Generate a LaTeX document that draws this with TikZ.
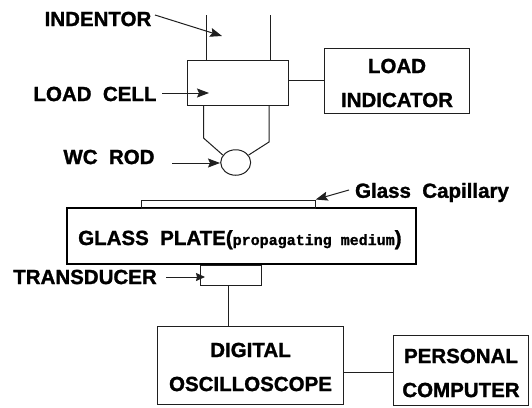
\documentclass[tikz,border=0pt]{standalone}
\usepackage{fontspec}
\setmainfont{Liberation Sans}[BoldFeatures={FakeBold=1.3}]
\newfontfamily\monoface{Liberation Mono}[FakeBold=1.2]
\usetikzlibrary{arrows.meta,shapes.geometric}
\tikzset{
  x=1pt,y=-1pt,
  ln/.style={draw=black!88,line width=1pt},
  thickbox/.style={draw=black,line width=1.5pt},
  ptr/.style={ln,-{Stealth[length=12pt,width=9pt,inset=2pt]}},
  lab/.style={font=\fontsize{20.5}{34}\selectfont\bfseries,inner sep=0pt,text=black,align=center},
  boxed/.style={ln,inner sep=0pt},
}
\begin{document}
\begin{tikzpicture}
\useasboundingbox (0,0) rectangle (532,407);
\fill[white] (0,0) rectangle (532,407);
% labels
\node[lab] (lindentor) at (98,19) {INDENTOR};
\node[lab] (lloadcell) at (95,94) {LOAD\ \ CELL};
\node[lab] (lwc) at (109,157) {WC\ \ ROD};
\node[lab] (lcap) at (432,192.5) {Glass\ \ Capillary};
\node[lab] (ltrans) at (85,277) {TRANSDUCER};
% load cell
\node[boxed,minimum width=100.5pt,minimum height=45pt] (cell) at (237.75,82.5) {};
\coordinate (il) at (206.5,15);
\coordinate (ir) at (270,15);
\draw[ln] (il) -- (il |- cell.north);
\draw[ln] (ir) -- (ir |- cell.north);
\node[draw=black!88,line width=1pt,ellipse,minimum width=30pt,minimum height=25.5pt,inner sep=0pt] (ball) at (235.7,162.5) {};
\coordinate (sl) at (203.5,105);
\coordinate (sr) at (269,105);
\coordinate (bl) at (203.5,138);
\coordinate (br) at (269,142);
\draw[ln] (sl) -- (bl) -- (ball.150);
\draw[ln] (sr) -- (br) -- (ball.30);
% load indicator
\node[boxed,minimum width=145pt,minimum height=65pt] (ind) at (396.5,80.5) {};
\node[lab] (indtxt) at (397,83) {LOAD\\INDICATOR};
\draw[ln] (cell.east |- ind.west) -- (ind.west);
% arrows
\coordinate (ia) at (222,36);
\coordinate (ca) at (209,93);
\coordinate (wa) at (220,163);
\coordinate (ca0) at (162,93);
\coordinate (wa0) at (172,163);
\coordinate (ia0) at (155,15);
\draw[ptr] (ia0) -- (ia);
\draw[ptr] (ca0) -- (ca);
\draw[ptr] (wa0) -- (wa);
% plate
\node[thickbox,minimum width=349pt,minimum height=56pt] (plate) at (241.5,236) {};
\node[lab,anchor=base west] (ptxt) at (78,245) {GLASS\ \ PLATE({\monoface\fontsize{15}{18}\selectfont propagating medium})};
\node[boxed,minimum width=173.5pt,minimum height=8pt] (cap) at (228.5,204) {};
\coordinate (capa0) at (349,190);
\draw[ptr] (capa0) -- (cap.north east);
% transducer
\node[boxed,minimum width=61pt,minimum height=20pt] (tr) at (231,275) {};
\coordinate (tra0) at (166,277);
\coordinate (tra) at (205,277);
\draw[ln,-{Stealth[length=9pt,width=8pt,inset=1pt]}] (tra0) -- (tra);
% scope
\node[boxed,minimum width=185.5pt,minimum height=78pt] (scope) at (250.5,365.5) {};
\node[lab] (scopetxt) at (250.5,367) {DIGITAL\\OSCILLOSCOPE};
\coordinate (w1) at (228.5,0);
\draw[ln] (tr.south -| w1) -- (scope.north -| w1);
% pc
\node[boxed,minimum width=135pt,minimum height=70pt] (pc) at (461.2,370) {};
\node[lab] (pctxt) at (461,373) {PERSONAL\\COMPUTER};
\coordinate (w2) at (0,372);
\draw[ln] (scope.east |- w2) -- (pc.west |- w2);
\end{tikzpicture}
\end{document}
